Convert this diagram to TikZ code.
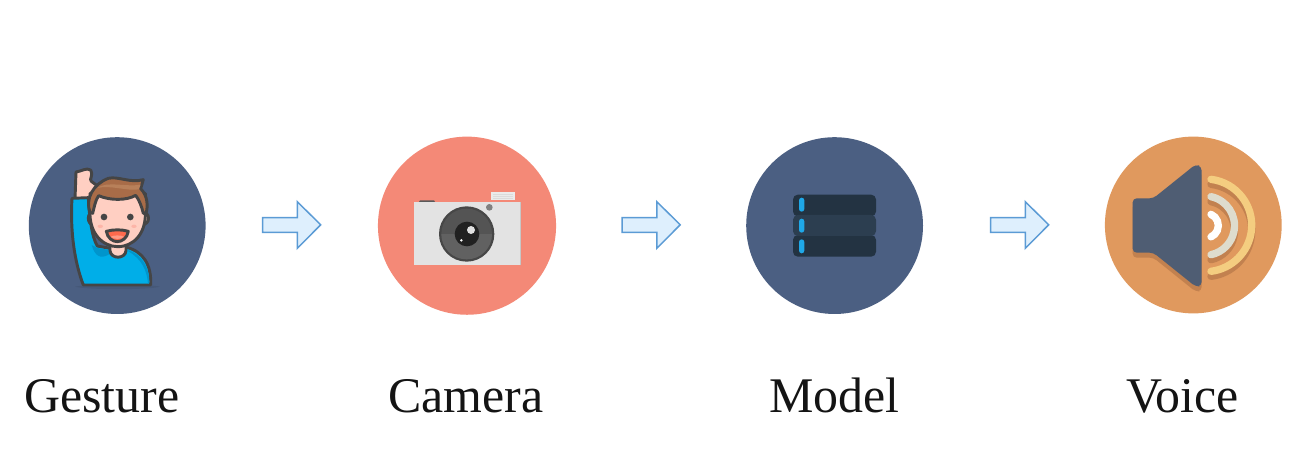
\documentclass[tikz,border=0pt]{standalone}
\usepackage{fontspec}
\setmainfont{Liberation Serif}
\definecolor{navy}{HTML}{4B5F82}
\definecolor{salmon}{HTML}{F48977}
\definecolor{amber}{HTML}{E0995E}
\definecolor{ink}{HTML}{454545}
\definecolor{skin}{HTML}{FFCFC2}
\definecolor{cheek}{HTML}{FDB5A8}
\definecolor{sleeve}{HTML}{00AEE8}
\definecolor{sleevedark}{HTML}{0095CC}
\definecolor{hairbrown}{HTML}{A86C48}
\definecolor{hairlight}{HTML}{B8805A}
\definecolor{mouthred}{HTML}{FF6A4D}
\definecolor{mouthlight}{HTML}{FF9A85}
\definecolor{arrowfill}{HTML}{DEEFFD}
\definecolor{arrowline}{HTML}{5B9BD5}
\definecolor{speaker}{HTML}{4F5D73}
\definecolor{shadow}{HTML}{C2814F}
\definecolor{waveouter}{HTML}{F4CD80}
\definecolor{wavemiddle}{HTML}{DEDCCD}
\definecolor{rowdark}{HTML}{233342}
\definecolor{rowmid}{HTML}{2C3E50}
\definecolor{led}{HTML}{1FA8E8}
\tikzset{
  x=0.75pt,y=-0.75pt,
  disc/.style={circle,minimum size=132.6pt,inner sep=0pt,draw=none},
  caption/.style={anchor=base west,inner sep=0pt,font=\fontsize{37.4pt}{40pt}\selectfont,text=black!92},
  blockarrow/.style={fill=arrowfill,draw=arrowline,line width=1.1pt,line join=miter},
  zoomed/.style={x=0.25pt,y=-0.25pt},
  outline/.style={draw=ink,line width=2.2pt,line join=round},
  wave/.style={line width=5.5pt,line cap=round},
  row/.style={rounded corners=3.6pt},
}
\newcommand{\blockarr}[1]{%
  \path[blockarrow,shift={(#1,0)}] (262.7,217.7) -- (297.3,217.7) -- (297.3,201.7) -- (320.7,224.8) -- (297.3,248.3) -- (297.3,232.3) -- (262.7,232.3) -- cycle;}
\begin{document}
\begin{tikzpicture}
\useasboundingbox (0,0) rectangle (1306,466);
\fill[white] (0,0) rectangle (1306,466);
% discs
\node[disc,fill=navy] (gesture) at (117.2,225.6) {};
\node[disc,fill=salmon,minimum size=133.6pt] (camera) at (467,225.7) {};
\node[disc,fill=navy] (model) at (834.6,225.6) {};
\node[disc,fill=amber] (voice) at (1193.3,225) {};
% labels
\node[caption] (lgesture) at (24,412.5) {Gesture};
\node[caption] (lcamera) at (388,412.5) {Camera};
\node[caption] (lmodel) at (769,412.5) {Model};
\node[caption] (lvoice) at (1126,412.5) {Voice};
% arrows
\blockarr{0}
\blockarr{359.5}
\blockarr{728}
% person
\begin{scope}[shift={(20,130)},zoomed]
  \fill[black,opacity=0.07] (165,470) .. controls (200,462) and (390,462) .. (420,470) .. controls (390,480) and (200,480) .. (165,470) -- cycle;
  % hand
  \path[outline,fill=skin] (165,208) -- (168,126) .. controls (185,124) and (198,112) .. (212,120) .. controls (222,135) and (206,148) .. (214,154) -- (238,172) -- (215,215) -- cycle;
  % sleeve and body
  \path[outline,fill=sleeve] (156,205) -- (205,203) .. controls (208,260) and (215,320) .. (232,348) -- (270,355) -- (320,352) .. controls (370,365) and (395,405) .. (392,465) -- (190,465) .. controls (165,400) and (150,310) .. (156,205) -- cycle;
  \fill[sleevedark] (215,345) .. controls (225,378) and (240,388) .. (266,374) -- (268,360) -- (232,354) -- cycle;
  \fill[sleevedark] (325,364) .. controls (365,387) and (380,420) .. (384,460) -- (388,460) .. controls (389,412) and (365,374) .. (325,360) -- cycle;
  % neck
  \path[outline,fill=skin] (270,340) -- (270,362) .. controls (272,388) and (316,388) .. (318,362) -- (318,340) -- cycle;
  % ears
  \path[outline,fill=skin] (220,246) .. controls (200,246) and (200,284) .. (220,284) -- cycle;
  \path[outline,fill=skin] (366,246) .. controls (392,246) and (392,284) .. (366,284) -- cycle;
  % face
  \path[outline,fill=skin] (210,190) -- (210,240) .. controls (206,312) and (250,350) .. (293,350) .. controls (340,350) and (380,312) .. (376,240) -- (376,190) -- cycle;
  \fill[cheek] (241,289) ellipse (8 and 5);
  \fill[cheek] (342,289) ellipse (8 and 5);
  % hair
  \path[outline,fill=hairbrown] (210,248) .. controls (195,205) and (220,162) .. (265,145) .. controls (295,138) and (330,160) .. (370,149) -- (362,176) .. controls (384,198) and (384,230) .. (378,250) -- (370,250) .. controls (365,230) and (358,210) .. (347,196) .. controls (320,212) and (270,212) .. (236,197) .. controls (226,210) and (222,235) .. (218,250) -- cycle;
  \fill[hairlight] (232,174) .. controls (260,152) and (320,172) .. (362,164) -- (356,178) .. controls (320,184) and (270,164) .. (232,174) -- cycle;
  % eyes
  \fill[ink] (252,261) circle (10);
  \fill[ink] (331,261) circle (10);
  % mouth
  \path[outline,fill=mouthred] (259,304) .. controls (280,298) and (305,298) .. (325,304) .. controls (322,324) and (306,335) .. (292,335) .. controls (278,335) and (262,324) .. (259,304) -- cycle;
  \fill[mouthlight] (272,320) .. controls (282,315) and (303,315) .. (312,320) .. controls (305,329) and (280,329) .. (272,320) -- cycle;
\end{scope}
% camera
\begin{scope}[shift={(370,130)},zoomed]
  \fill[black!65] (147,216) -- (150,211) -- (192,211) -- (195,216) -- cycle;
  \fill[black!8] (363,186) rectangle (435,210);
  \draw[black!14,line width=0.5pt] (369,194) -- (429,194) (369,200) -- (429,200) (369,206) -- (429,206);
  \fill[black!11] (132,216) rectangle (452,404);
  \fill[black!22] (449,216) rectangle (452,404);
  \fill[black!50] (358,232) circle (10);
  \fill[black!72] (290,312) circle (83);
  \fill[black!67] (290,312) circle (76);
  \begin{scope}
    \clip (214,315) rectangle (366,390);
    \fill[black!62] (290,312) circle (76);
  \end{scope}
  \fill[black!87] (291,312) circle (37);
  \fill[black!12] (303,300) circle (12);
  \fill[white] (274,331) circle (4);
\end{scope}
% model
\begin{scope}[shift={(770,175)},zoomed]
  \fill[row,rowdark] (69,59) rectangle (318,124);
  \fill[row,rowdark] (69,180) rectangle (318,245);
  \fill[row,rowmid] (69,120) rectangle (318,183);
  \foreach \ya/\yb in {68/110,131/173,193/235}
    \fill[rounded corners=2pt,led] (87,\ya) rectangle (103,\yb);
\end{scope}
% voice
\begin{scope}[shift={(1095,130)},zoomed]
  \fill[shadow,shift={(0,15)},rounded corners=3pt] (113,205) -- (175,205) -- (302,103) -- (320,110) -- (320,468) -- (302,470) -- (175,368) -- (113,368) -- cycle;
  \fill[speaker,rounded corners=3pt] (113,205) -- (175,205) -- (302,103) -- (320,110) -- (320,468) -- (302,470) -- (175,368) -- (113,368) -- cycle;
  \draw[wave,shadow] (348,163) arc[start angle=-83,end angle=83,radius=139];
  \draw[wave,shadow] (348,215) arc[start angle=-78,end angle=78,radius=89];
  \draw[wave,waveouter] (348,148) arc[start angle=-83,end angle=83,radius=139];
  \draw[wave,wavemiddle] (348,200) arc[start angle=-78,end angle=78,radius=89];
  \draw[wave,white] (348,253) arc[start angle=-66,end angle=66,radius=37];
\end{scope}
\end{tikzpicture}
\end{document}
